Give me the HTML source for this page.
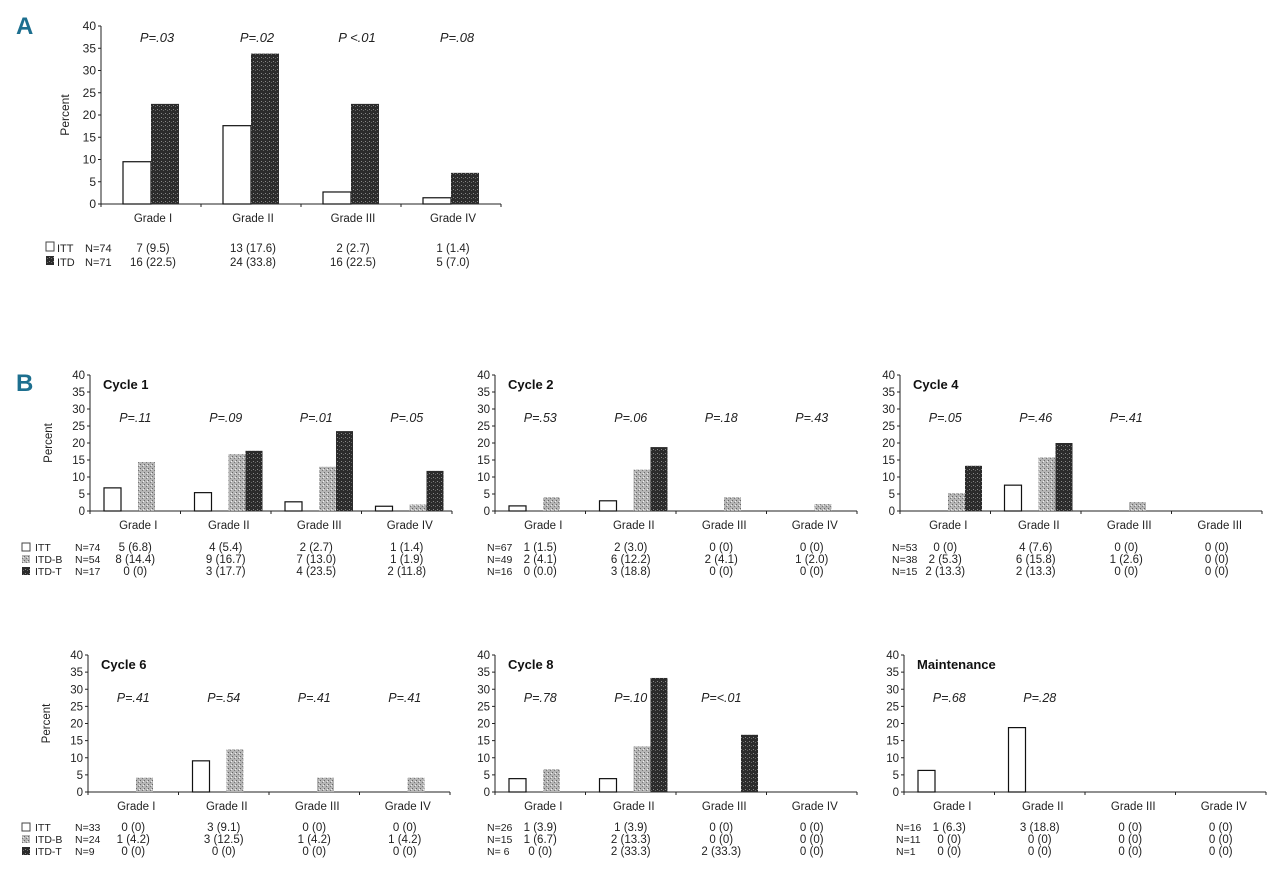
<!DOCTYPE html>
<html><head><meta charset="utf-8"><style>
body{margin:0;background:#fff;width:1280px;height:890px;overflow:hidden}
svg{display:block;font-family:"Liberation Sans",sans-serif}
</style></head><body>
<svg id="fig" width="1280" height="890">
<defs>
<pattern id="dark" width="4" height="4" patternUnits="userSpaceOnUse"><rect width="4" height="4" fill="#2b2b2b"/><rect x="1" y="1" width="1" height="1" fill="#888"/><rect x="3" y="2" width="1" height="1" fill="#666"/></pattern>
<pattern id="gray" width="4" height="4" patternUnits="userSpaceOnUse"><rect width="4" height="4" fill="#b5b5b5"/><rect x="0" y="0" width="1" height="1" fill="#666"/><rect x="2" y="2" width="1" height="1" fill="#777"/><rect x="3" y="1" width="1" height="1" fill="#eee"/></pattern>
</defs>
<text x="16" y="34" font-size="24" font-weight="bold" fill="#1d6f8f" font-family="Liberation Sans Narrow, Liberation Sans, sans-serif">A</text>
<text x="16" y="391" font-size="24" font-weight="bold" fill="#1d6f8f" font-family="Liberation Sans Narrow, Liberation Sans, sans-serif">B</text>
</svg>
<script>
const grades=["Grade I","Grade II","Grade III","Grade IV"];
const yTicks=[0,5,10,15,20,25,30,35,40];
// Panel A
const aITT=[9.5,17.6,2.7,1.4];
const aITD=[22.5,33.8,22.5,7.0];
const aP=["P=.03","P=.02","P <.01","P=.08"];
const aRowITT=["7 (9.5)","13 (17.6)","2 (2.7)","1 (1.4)"];
const aRowITD=["16 (22.5)","24 (33.8)","16 (22.5)","5 (7.0)"];
// Panel B
const bTitles=["Cycle 1","Cycle 2","Cycle 4","Cycle 6","Cycle 8","Maintenance"];
const bITT=[[6.8,5.4,2.7,1.4],[1.5,3.0,0,0],[0,7.6,0,0],[0,9.1,0,0],[3.9,3.9,0,0],[6.3,18.8,0,0]];
const bITDB=[[14.4,16.7,13.0,1.9],[4.1,12.2,4.1,2.0],[5.3,15.8,2.6,0],[4.2,12.5,4.2,4.2],[6.7,13.3,0,0],[0,0,0,0]];
const bITDT=[[0,17.7,23.5,11.8],[0,18.8,0,0],[13.3,20.0,0,0],[0,0,0,0],[0,33.3,16.7,0],[0,0,0,0]];
const bP=[[".11",".09",".01",".05"],[".53",".06",".18",".43"],[".05",".46",".41",""],[".41",".54",".41",".41"],[".78",".10","<.01",""],[".68",".28","",""]];
const bGrades=[grades,grades,["Grade I","Grade II","Grade III","Grade III"],grades,grades,grades];
const bN=[["N=74","N=54","N=17"],["N=67","N=49","N=16"],["N=53","N=38","N=15"],["N=33","N=24","N=9"],["N=26","N=15","N= 6"],["N=16","N=11","N=1"]];
const bRows=[
[["5 (6.8)","4 (5.4)","2 (2.7)","1 (1.4)"],["8 (14.4)","9 (16.7)","7 (13.0)","1 (1.9)"],["0 (0)","3 (17.7)","4 (23.5)","2 (11.8)"]],
[["1 (1.5)","2 (3.0)","0 (0)","0 (0)"],["2 (4.1)","6 (12.2)","2 (4.1)","1 (2.0)"],["0 (0.0)","3 (18.8)","0 (0)","0 (0)"]],
[["0 (0)","4 (7.6)","0 (0)","0 (0)"],["2 (5.3)","6 (15.8)","1 (2.6)","0 (0)"],["2 (13.3)","2 (13.3)","0 (0)","0 (0)"]],
[["0 (0)","3 (9.1)","0 (0)","0 (0)"],["1 (4.2)","3 (12.5)","1 (4.2)","1 (4.2)"],["0 (0)","0 (0)","0 (0)","0 (0)"]],
[["1 (3.9)","1 (3.9)","0 (0)","0 (0)"],["1 (6.7)","2 (13.3)","0 (0)","0 (0)"],["0 (0)","2 (33.3)","2 (33.3)","0 (0)"]],
[["1 (6.3)","3 (18.8)","0 (0)","0 (0)"],["0 (0)","0 (0)","0 (0)","0 (0)"],["0 (0)","0 (0)","0 (0)","0 (0)"]]];

const svg=document.getElementById('fig');
const NS="http://www.w3.org/2000/svg";
function el(tag,attrs,name,txt){const e=document.createElementNS(NS,tag);for(const k in attrs)e.setAttribute(k,attrs[k]);


if(txt!==undefined)e.textContent=txt;svg.appendChild(e);return e;}

function axes(ax,y0,y40,w,fs,rot){
  const ys=v=>y0-(y0-y40)*v/40;
  el('line',{x1:ax,y1:y40,x2:ax,y2:y0,stroke:'#222','stroke-width':1},'y-axis');
  el('line',{x1:ax,y1:y0,x2:ax+w,y2:y0,stroke:'#222','stroke-width':1},'x-axis');
  yTicks.forEach(t=>{el('line',{x1:ax-3,y1:ys(t),x2:ax,y2:ys(t),stroke:'#222'},'y-tick');
    el('text',{x:ax-5,y:ys(t)+4,'font-size':fs,'text-anchor':'end',fill:'#222'},'y-tick-label',t);});
  for(let i=0;i<=4;i++)el('line',{x1:ax+w*i/4,y1:y0,x2:ax+w*i/4,y2:y0+3,stroke:'#222'},'x-tick');
  if(rot)el('text',{x:rot,y:(y0+y40)/2,'font-size':fs,'text-anchor':'middle',fill:'#222',transform:`rotate(-90 ${rot} ${(y0+y40)/2})`},'y-axis-title','Percent');
  return ys;
}
// Panel A
(function(){
  const ax=101,y0=204,y40=26,w=400,gw=w/4;const ys=axes(ax,y0,y40,w,12,69);
  grades.forEach((g,i)=>{const c=ax+gw*i+gw/2;
    el('rect',{x:c-28,y:ys(aITT[i]),width:28,height:y0-ys(aITT[i]),fill:'#fff',stroke:'#111','stroke-width':1.2},'bar-itt-'+(i+1));
    el('rect',{x:c,y:ys(aITD[i]),width:28,height:y0-ys(aITD[i]),fill:'url(#dark)'},'bar-itd-'+(i+1));
    el('text',{x:c+2,y:222,'font-size':11.5,'text-anchor':'middle',fill:'#222'},'x-label',g);
    el('text',{x:c+6,y:42,'font-size':13,'font-style':'italic','text-anchor':'middle',fill:'#222'},'p-value',aP[i]);
    el('text',{x:c+2,y:252,'font-size':11.5,'text-anchor':'middle',fill:'#222'},'table-cell',aRowITT[i]);
    el('text',{x:c+2,y:266,'font-size':11.5,'text-anchor':'middle',fill:'#222'},'table-cell',aRowITD[i]);
  });
  el('rect',{x:46,y:242,width:8,height:9,fill:'#fff',stroke:'#444'},'legend-swatch-itt');
  el('text',{x:57,y:252,'font-size':11,fill:'#222'},'legend-itt','ITT');
  el('rect',{x:46,y:256,width:8,height:9,fill:'url(#dark)'},'legend-swatch-itd');
  el('text',{x:57,y:266,'font-size':11,fill:'#222'},'legend-itd','ITD');
  el('text',{x:85,y:252,'font-size':11,fill:'#222'},'n-itt','N=74');
  el('text',{x:85,y:266,'font-size':11,fill:'#222'},'n-itd','N=71');
})();
// Panel B
const cols=[90,495,900],rowsY=[[511,375,551],[792,655,831]];
bTitles.forEach((t,p)=>{
  const col=p%3,row=Math.floor(p/3);const ax=cols[col]-(row==1&&col==0?2:0)+(row==1&&col==2?4:0);
  const [y0,y40,ty]=rowsY[row];const w=362,gw=w/4;
  const ys=axes(ax,y0,y40,w,11.5,col===0?ax-38:null);
  el('text',{x:ax+13,y:y40+14,'font-size':13,'font-weight':'bold',fill:'#111'},'panel-title',t);
  for(let i=0;i<4;i++){const g=ax+gw*i;
    const h1=bITT[p][i],h2=bITDB[p][i],h3=bITDT[p][i];
    if(h1>0)el('rect',{x:g+14,y:ys(h1),width:17,height:y0-ys(h1),fill:'#fff',stroke:'#111','stroke-width':1.2},'bar-itt');
    if(h2>0)el('rect',{x:g+48,y:ys(h2),width:17,height:y0-ys(h2),fill:'url(#gray)'},'bar-itd-b');
    if(h3>0)el('rect',{x:g+65,y:ys(h3),width:17,height:y0-ys(h3),fill:'url(#dark)'},'bar-itd-t');
    el('text',{x:g+gw/2+3,y:y0+18,'font-size':11.5,'text-anchor':'middle',fill:'#222'},'x-label',bGrades[p][i]);
    if(bP[p][i])el('text',{x:g+gw/2,y:y40+47,'font-size':12.5,'font-style':'italic','text-anchor':'middle',fill:'#222'},'p-value','P='+bP[p][i]);
    for(let r=0;r<3;r++)el('text',{x:g+gw/2,y:ty+r*12,'font-size':11.5,'text-anchor':'middle',fill:'#222'},'table-cell',bRows[p][r][i]);
  }
  for(let r=0;r<3;r++)el('text',{x:col==0?75:ax-8,y:ty+r*12,'font-size':10.5,fill:'#222'},'n-label',bN[p][r]);
  if(col==0){const names=["ITT","ITD-B","ITD-T"],fills=['#fff','url(#gray)','url(#dark)'];
    for(let r=0;r<3;r++){el('rect',{x:22,y:ty+r*12-8,width:8,height:8,fill:fills[r],stroke:r==0?'#444':'none'},'legend-swatch');
      el('text',{x:35,y:ty+r*12,'font-size':10.5,fill:'#222'},'legend-entry',names[r]);}}
});
</script>
</body></html>
